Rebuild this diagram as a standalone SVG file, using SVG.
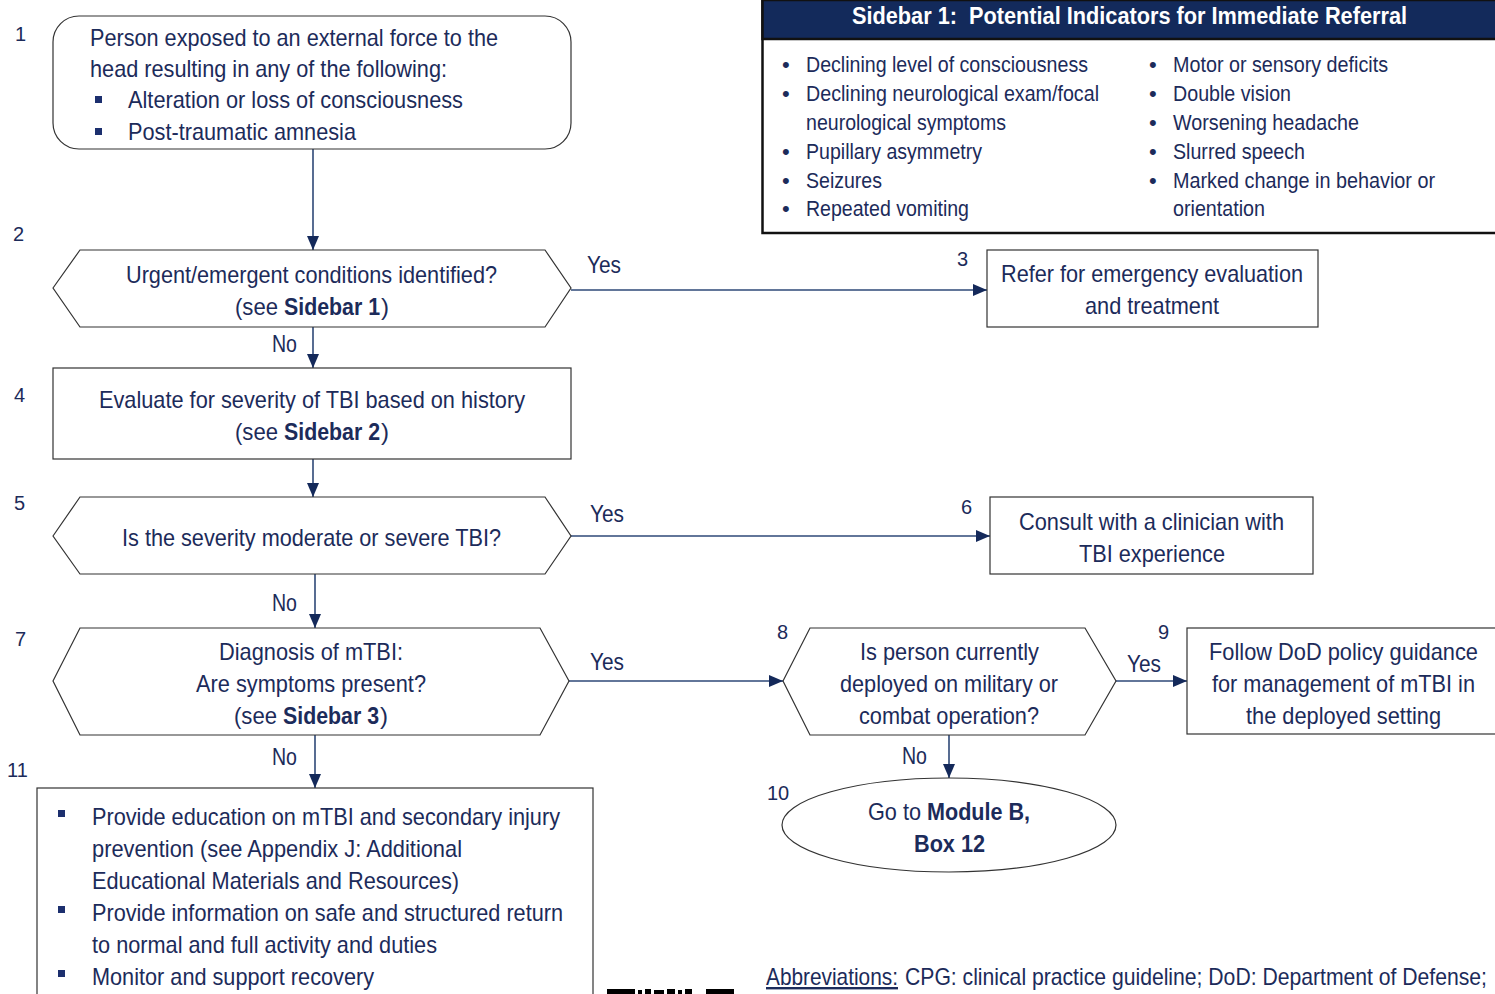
<svg xmlns="http://www.w3.org/2000/svg" width="1495" height="994" viewBox="0 0 1495 994">
<style>
.t{font-family:"Liberation Sans Narrow","Liberation Sans",Arial,sans-serif;font-size:24px;fill:#1c2b5a}
.s{font-size:22px}
.b{font-weight:bold}
.n{font-family:"Liberation Sans",Arial,sans-serif;font-size:20px;fill:#1c2b5a}
.box{fill:#fff;stroke:#333;stroke-width:1.2}
.con{stroke:#2e4877;stroke-width:1.6;fill:none}
.hd{font-family:"Liberation Sans",Arial,sans-serif;font-size:23px;font-weight:bold;fill:#fff}
.sq{fill:#1c2f6e}
</style>
<defs>
<marker id="ah" markerUnits="userSpaceOnUse" markerWidth="14" markerHeight="14" viewBox="0 0 14 14" refX="14" refY="7" orient="auto">
<path d="M0,1 L14,7 L0,13 Z" fill="#14295a"/>
</marker>
</defs>
<rect width="1495" height="994" fill="#fff"/>

<g id="connectors">
<line class="con" x1="313" y1="149" x2="313" y2="250" marker-end="url(#ah)"/>
<line class="con" x1="571" y1="290" x2="987" y2="290" marker-end="url(#ah)"/>
<line class="con" x1="313" y1="327" x2="313" y2="368" marker-end="url(#ah)"/>
<line class="con" x1="313" y1="459" x2="313" y2="497" marker-end="url(#ah)"/>
<line class="con" x1="571" y1="536" x2="990" y2="536" marker-end="url(#ah)"/>
<line class="con" x1="315" y1="574" x2="315" y2="628" marker-end="url(#ah)"/>
<line class="con" x1="569" y1="681" x2="783" y2="681" marker-end="url(#ah)"/>
<line class="con" x1="1116" y1="681" x2="1187" y2="681" marker-end="url(#ah)"/>
<line class="con" x1="949" y1="735" x2="949" y2="778" marker-end="url(#ah)"/>
<line class="con" x1="315" y1="735" x2="315" y2="788" marker-end="url(#ah)"/>
<text class="t" x="587" y="273" textLength="34" lengthAdjust="spacingAndGlyphs">Yes</text>
<text class="t" x="272" y="352" textLength="25" lengthAdjust="spacingAndGlyphs">No</text>
<text class="t" x="590" y="522" textLength="34" lengthAdjust="spacingAndGlyphs">Yes</text>
<text class="t" x="272" y="611" textLength="25" lengthAdjust="spacingAndGlyphs">No</text>
<text class="t" x="590" y="670" textLength="34" lengthAdjust="spacingAndGlyphs">Yes</text>
<text class="t" x="1127" y="672" textLength="34" lengthAdjust="spacingAndGlyphs">Yes</text>
<text class="t" x="902" y="764" textLength="25" lengthAdjust="spacingAndGlyphs">No</text>
<text class="t" x="272" y="765" textLength="25" lengthAdjust="spacingAndGlyphs">No</text>
</g>

<g id="sidebar1">
<rect x="762.5" y="0" width="740" height="233" fill="#fff" stroke="#111" stroke-width="2.5"/>
<rect x="762.5" y="0" width="740" height="39" fill="#132a5b" stroke="#111" stroke-width="2.5"/>
<text class="hd" x="852" y="24" textLength="555" lengthAdjust="spacingAndGlyphs">Sidebar 1:&#160; Potential Indicators for Immediate Referral</text>
<g class="t s">
<text x="782" y="72">•</text>
<text x="782" y="101">•</text>
<text x="782" y="159">•</text>
<text x="782" y="188">•</text>
<text x="782" y="216">•</text>
<text x="1149" y="72">•</text>
<text x="1149" y="101">•</text>
<text x="1149" y="130">•</text>
<text x="1149" y="159">•</text>
<text x="1149" y="188">•</text>
<text x="806" y="72" textLength="282" lengthAdjust="spacingAndGlyphs">Declining level of consciousness</text>
<text x="806" y="101" textLength="293" lengthAdjust="spacingAndGlyphs">Declining neurological exam/focal</text>
<text x="806" y="130" textLength="200" lengthAdjust="spacingAndGlyphs">neurological symptoms</text>
<text x="806" y="159" textLength="176" lengthAdjust="spacingAndGlyphs">Pupillary asymmetry</text>
<text x="806" y="188" textLength="76" lengthAdjust="spacingAndGlyphs">Seizures</text>
<text x="806" y="216" textLength="163" lengthAdjust="spacingAndGlyphs">Repeated vomiting</text>
<text x="1173" y="72" textLength="215" lengthAdjust="spacingAndGlyphs">Motor or sensory deficits</text>
<text x="1173" y="101" textLength="118" lengthAdjust="spacingAndGlyphs">Double vision</text>
<text x="1173" y="130" textLength="186" lengthAdjust="spacingAndGlyphs">Worsening headache</text>
<text x="1173" y="159" textLength="132" lengthAdjust="spacingAndGlyphs">Slurred speech</text>
<text x="1173" y="188" textLength="262" lengthAdjust="spacingAndGlyphs">Marked change in behavior or</text>
<text x="1173" y="216" textLength="92" lengthAdjust="spacingAndGlyphs">orientation</text>
</g>
</g>

<g id="node1">
<rect class="box" x="53" y="16" width="518" height="133" rx="26" ry="26"/>
<text class="n" x="15" y="41">1</text>
<text class="t" x="90" y="46" textLength="408" lengthAdjust="spacingAndGlyphs">Person exposed to an external force to the</text>
<text class="t" x="90" y="77" textLength="357" lengthAdjust="spacingAndGlyphs">head resulting in any of the following:</text>
<rect class="sq" x="95" y="96" width="7" height="7"/>
<text class="t" x="128" y="108" textLength="335" lengthAdjust="spacingAndGlyphs">Alteration or loss of consciousness</text>
<rect class="sq" x="95" y="128" width="7" height="7"/>
<text class="t" x="128" y="140" textLength="228" lengthAdjust="spacingAndGlyphs">Post-traumatic amnesia</text>
</g>

<g id="node2">
<polygon class="box" points="53,288 80,250 545,250 571,288 545,327 80,327"/>
<text class="n" x="13" y="241">2</text>
<text class="t" x="126" y="283" textLength="371" lengthAdjust="spacingAndGlyphs">Urgent/emergent conditions identified?</text>
<text class="t" y="315"><tspan x="235" textLength="43" lengthAdjust="spacingAndGlyphs">(see</tspan><tspan class="b" x="284" textLength="96" lengthAdjust="spacingAndGlyphs">Sidebar 1</tspan><tspan x="381">)</tspan></text>
</g>

<g id="node3">
<rect class="box" x="987" y="250" width="331" height="77"/>
<text class="n" x="957" y="266">3</text>
<text class="t" x="1001" y="282" textLength="302" lengthAdjust="spacingAndGlyphs">Refer for emergency evaluation</text>
<text class="t" x="1085" y="314" textLength="134" lengthAdjust="spacingAndGlyphs">and treatment</text>
</g>

<g id="node4">
<rect class="box" x="53" y="368" width="518" height="91"/>
<text class="n" x="14" y="402">4</text>
<text class="t" x="99" y="408" textLength="426" lengthAdjust="spacingAndGlyphs">Evaluate for severity of TBI based on history</text>
<text class="t" y="440"><tspan x="235" textLength="43" lengthAdjust="spacingAndGlyphs">(see</tspan><tspan class="b" x="284" textLength="96" lengthAdjust="spacingAndGlyphs">Sidebar 2</tspan><tspan x="381">)</tspan></text>
</g>

<g id="node5">
<polygon class="box" points="53,536 80,497 545,497 571,536 545,574 80,574"/>
<text class="n" x="14" y="510">5</text>
<text class="t" x="122" y="546" textLength="379" lengthAdjust="spacingAndGlyphs">Is the severity moderate or severe TBI?</text>
</g>

<g id="node6">
<rect class="box" x="990" y="497" width="323" height="77"/>
<text class="n" x="961" y="514">6</text>
<text class="t" x="1019" y="530" textLength="265" lengthAdjust="spacingAndGlyphs">Consult with a clinician with</text>
<text class="t" x="1079" y="562" textLength="146" lengthAdjust="spacingAndGlyphs">TBI experience</text>
</g>

<g id="node7">
<polygon class="box" points="53,681 80,628 540,628 569,681 540,735 80,735"/>
<text class="n" x="15" y="646">7</text>
<text class="t" x="219" y="660" textLength="184" lengthAdjust="spacingAndGlyphs">Diagnosis of mTBI:</text>
<text class="t" x="196" y="692" textLength="230" lengthAdjust="spacingAndGlyphs">Are symptoms present?</text>
<text class="t" y="724"><tspan x="234" textLength="43" lengthAdjust="spacingAndGlyphs">(see</tspan><tspan class="b" x="283" textLength="96" lengthAdjust="spacingAndGlyphs">Sidebar 3</tspan><tspan x="380">)</tspan></text>
</g>

<g id="node8">
<polygon class="box" points="783,681 810,628 1085,628 1116,681 1085,735 810,735"/>
<text class="n" x="777" y="639">8</text>
<text class="t" x="860" y="660" textLength="179" lengthAdjust="spacingAndGlyphs">Is person currently</text>
<text class="t" x="840" y="692" textLength="218" lengthAdjust="spacingAndGlyphs">deployed on military or</text>
<text class="t" x="859" y="724" textLength="180" lengthAdjust="spacingAndGlyphs">combat operation?</text>
</g>

<g id="node9">
<rect class="box" x="1187" y="628" width="320" height="106"/>
<text class="n" x="1158" y="639">9</text>
<text class="t" x="1209" y="660" textLength="269" lengthAdjust="spacingAndGlyphs">Follow DoD policy guidance</text>
<text class="t" x="1212" y="692" textLength="263" lengthAdjust="spacingAndGlyphs">for management of mTBI in</text>
<text class="t" x="1246" y="724" textLength="195" lengthAdjust="spacingAndGlyphs">the deployed setting</text>
</g>

<g id="node10">
<ellipse class="box" cx="949" cy="825" rx="167" ry="47"/>
<text class="n" x="767" y="800">10</text>
<text class="t" y="820"><tspan x="868" textLength="53" lengthAdjust="spacingAndGlyphs">Go to</tspan><tspan class="b" x="927" textLength="103" lengthAdjust="spacingAndGlyphs">Module B,</tspan></text>
<text class="t b" x="914" y="852" textLength="71" lengthAdjust="spacingAndGlyphs">Box 12</text>
</g>

<g id="node11">
<rect class="box" x="37" y="788" width="556" height="220"/>
<text class="n" x="7" y="777">11</text>
<rect class="sq" x="58" y="810" width="7" height="7"/>
<text class="t" x="92" y="825" textLength="468" lengthAdjust="spacingAndGlyphs">Provide education on mTBI and secondary injury</text>
<text class="t" x="92" y="857" textLength="370" lengthAdjust="spacingAndGlyphs">prevention (see Appendix J: Additional</text>
<text class="t" x="92" y="889" textLength="367" lengthAdjust="spacingAndGlyphs">Educational Materials and Resources)</text>
<rect class="sq" x="58" y="906" width="7" height="7"/>
<text class="t" x="92" y="921" textLength="471" lengthAdjust="spacingAndGlyphs">Provide information on safe and structured return</text>
<text class="t" x="92" y="953" textLength="345" lengthAdjust="spacingAndGlyphs">to normal and full activity and duties</text>
<rect class="sq" x="58" y="970" width="7" height="7"/>
<text class="t" x="92" y="985" textLength="282" lengthAdjust="spacingAndGlyphs">Monitor and support recovery</text>
</g>

<g id="abbreviations">
<text class="t" y="985"><tspan x="766" textLength="132" lengthAdjust="spacingAndGlyphs" text-decoration="underline">Abbreviations:</tspan><tspan x="905" textLength="582" lengthAdjust="spacingAndGlyphs">CPG: clinical practice guideline; DoD: Department of Defense;</tspan></text>
</g>

<g id="qr-fragment">
<rect x="607" y="989" width="28" height="5" fill="#000"/>
<rect x="638" y="990" width="4" height="4" fill="#000"/>
<rect x="645" y="989" width="6" height="5" fill="#000"/>
<rect x="654" y="990" width="10" height="4" fill="#000"/>
<rect x="667" y="989" width="8" height="5" fill="#000"/>
<rect x="678" y="990" width="4" height="4" fill="#000"/>
<rect x="685" y="989" width="7" height="5" fill="#000"/>
<rect x="706" y="989" width="28" height="5" fill="#000"/>
</g>
</svg>
